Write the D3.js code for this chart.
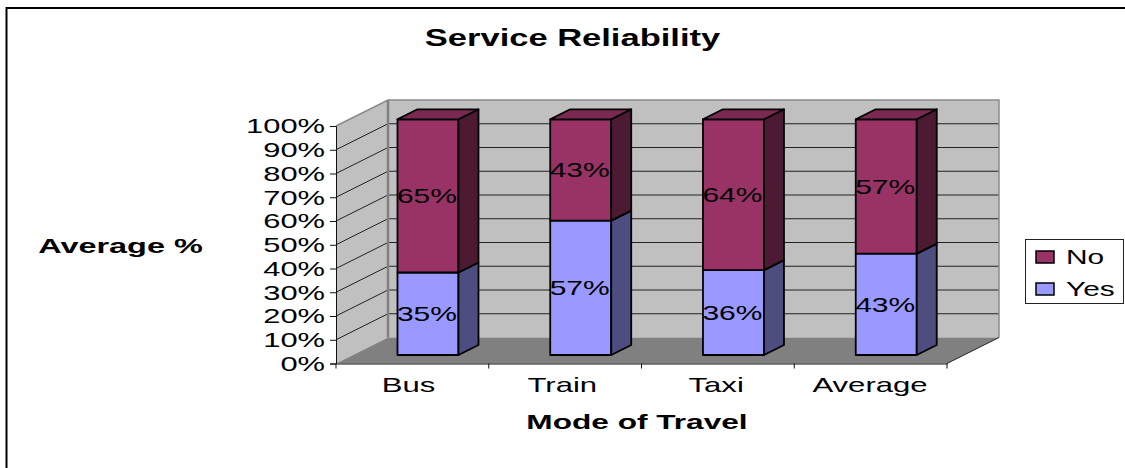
<!DOCTYPE html>
<html><head><meta charset="utf-8">
<script src="https://cdn.jsdelivr.net/npm/d3@7"></script>
<style>
html,body{margin:0;padding:0;background:#fff;overflow:hidden}
text{font-family:"Liberation Sans",Arial,sans-serif;fill:#000}
</style></head><body>
<script>
const categories = ["Bus","Train","Taxi","Average"];
const yesValues = [35,57,36,43];
const noValues = [65,43,64,57];
const tickValues = [0,10,20,30,40,50,60,70,80,90,100];
const seriesNames = ["Yes","No"];
const titleText = "Service Reliability";
const xTitle = "Mode of Travel";
const yTitle = "Average %";

const W=1125,H=468;
const svg=d3.select("body").append("svg").attr("width",W).attr("height",H).style("display","block");
const X0=336,X1=947,Y0=363.5,Y1=126,DX=52,DY=-26;
const x=d3.scaleBand().domain(categories).range([X0,X1]);
const labelX=d3.scalePoint().domain(categories).range([408.5,870]);
const y=d3.scaleLinear().domain([0,100]).range([Y0,Y1]);
const yBar=d3.scaleLinear().domain([0,100]).range([355,119.3]);
const poly=pts=>pts.map(p=>p.join(",")).join(" ");
const stretch=(sel,k)=>sel.each(function(){this.setAttribute("textLength",this.getComputedTextLength()*k);this.setAttribute("lengthAdjust","spacingAndGlyphs");});

// outer frame (top and left edges only)
svg.append("path").attr("d",`M6.5,${H}V8H${W}`).attr("fill","none").attr("stroke","#000").attr("stroke-width",2);

// walls and floor
svg.append("polygon").attr("points",poly([[X0+DX,Y1+DY],[X1+DX,Y1+DY],[X1+DX,Y0+DY],[X0+DX,Y0+DY]])).attr("fill","#c0c0c0");
svg.append("polygon").attr("points",poly([[X0,Y1],[X0+DX,Y1+DY],[X0+DX,Y0+DY],[X0,Y0]])).attr("fill","#c0c0c0");
svg.append("polygon").attr("points",poly([[X0,Y0],[X0+DX,Y0+DY],[X1+DX,Y0+DY],[X1,Y0]])).attr("fill","#808080");

// gridlines
const gridVals=tickValues.filter(d=>d>0&&d<100);
svg.append("g").selectAll("line").data(gridVals).join("line")
 .attr("x1",X0+DX).attr("x2",X1+DX).attr("y1",d=>y(d)+DY).attr("y2",d=>y(d)+DY).attr("stroke","#222");
svg.append("g").selectAll("line").data(gridVals).join("line")
 .attr("x1",X0).attr("x2",X0+DX).attr("y1",d=>y(d)).attr("y2",d=>y(d)+DY).attr("stroke","#222");

// wall edges
svg.append("path").attr("d",`M${X0},${Y1}L${X0+DX},${Y1+DY}H${X1+DX}V${Y0+DY}`).attr("fill","none").attr("stroke","#8a8a8a").attr("stroke-width",1.5);
svg.append("line").attr("x1",X0+DX).attr("x2",X0+DX).attr("y1",Y1+DY).attr("y2",Y0+DY).attr("stroke","#808080").attr("stroke-width",2.5);
svg.append("line").attr("x1",X1).attr("x2",X1+DX).attr("y1",Y0).attr("y2",Y0+DY).attr("stroke","#222");

// bars
const barW=61,bdx=20,bdy=-10,shift=15.6;
const colors={Yes:{front:"#9999ff",side:"#4d4d80",top:"#7a7acc"},No:{front:"#993366",side:"#4d1a33",top:"#7a2952"}};
const rows=categories.map((c,i)=>({c,Yes:yesValues[i],No:noValues[i]}));
const stacked=d3.stack().keys(seriesNames)(rows);
const bars=svg.append("g");
stacked.forEach(layer=>{
  const col=colors[layer.key];
  const g=bars.append("g").selectAll("g").data(layer).join("g")
    .attr("stroke","#000").attr("stroke-width",1.8).attr("stroke-linejoin","round");
  const left=d=>x(d.data.c)+x.bandwidth()/2+shift-barW/2;
  g.append("rect").attr("x",left).attr("width",barW).attr("y",d=>yBar(d[1])).attr("height",d=>yBar(d[0])-yBar(d[1])).attr("fill",col.front);
  g.append("polygon").attr("fill",col.side).attr("points",d=>{const r=left(d)+barW;return poly([[r,yBar(d[1])],[r+bdx,yBar(d[1])+bdy],[r+bdx,yBar(d[0])+bdy],[r,yBar(d[0])]]);});
  g.filter(d=>d[1]>=100).append("polygon").attr("fill",col.top).attr("points",d=>{const l=left(d);const t=yBar(d[1]);return poly([[l,t],[l+bdx,t+bdy],[l+barW+bdx,t+bdy],[l+barW,t]]);});
});
// data labels
const labels=svg.append("g").attr("font-size",21).attr("text-anchor","middle");
stacked.forEach(layer=>{
  labels.append("g").selectAll("text").data(layer).join("text")
   .attr("x",d=>x(d.data.c)+x.bandwidth()/2+shift-1)
   .attr("y",d=>(yBar(d[0])+yBar(d[1]))/2+7.5)
   .text(d=>(d[1]-d[0])+"%").call(stretch,1.43);
});

// axes
const yAxis=svg.append("g").attr("transform",`translate(${X0},0)`).call(d3.axisLeft(y).tickValues(tickValues).tickFormat(d=>d+"%").tickSize(6).tickPadding(5));
yAxis.selectAll("path,line").attr("stroke","#111");
yAxis.selectAll("text").attr("font-size",21).attr("font-family",null).attr("dy","0.33em").call(stretch,1.47);
const xAxis=svg.append("g").attr("transform",`translate(0,${Y0})`).call(d3.axisBottom(x).tickSize(0).tickPadding(14));
xAxis.select(".domain").attr("stroke","#111");
xAxis.selectAll(".tick line").remove();
xAxis.selectAll("text").attr("font-size",21).attr("font-family",null)
  .attr("dx",d=>labelX(d)-(x(d)+x.bandwidth()/2)).call(stretch,1.48);
svg.append("g").selectAll("line").data(d3.range(categories.length+1)).join("line")
 .attr("x1",i=>X0+i*x.bandwidth()).attr("x2",i=>X0+i*x.bandwidth()).attr("y1",Y0).attr("y2",Y0+5).attr("stroke","#111");

// titles
svg.append("text").attr("x",572.5).attr("y",46).attr("text-anchor","middle").attr("font-size",23).attr("font-weight","bold").text(titleText).call(stretch,1.5);
svg.append("text").attr("x",637).attr("y",429).attr("text-anchor","middle").attr("font-size",20).attr("font-weight","bold").text(xTitle).call(stretch,1.58);
svg.append("text").attr("x",120.5).attr("y",253).attr("text-anchor","middle").attr("font-size",20).attr("font-weight","bold").text(yTitle).call(stretch,1.62);

// legend
const legend=svg.append("g");
legend.append("rect").attr("x",1025.5).attr("y",239.5).attr("width",98).attr("height",64).attr("fill","#fff").attr("stroke","#222");
const legY=d3.scalePoint().domain(["No","Yes"]).range([251,283]);
const li=legend.selectAll("g").data(["No","Yes"]).join("g");
li.append("rect").attr("x",1036).attr("y",d=>legY(d)).attr("width",18).attr("height",12).attr("fill",d=>colors[d].front).attr("stroke","#000").attr("stroke-width",1.5);
li.append("text").attr("x",1066).attr("y",d=>legY(d)+13).attr("font-size",21).text(d=>d).call(stretch,1.42);
</script>
</body></html>
